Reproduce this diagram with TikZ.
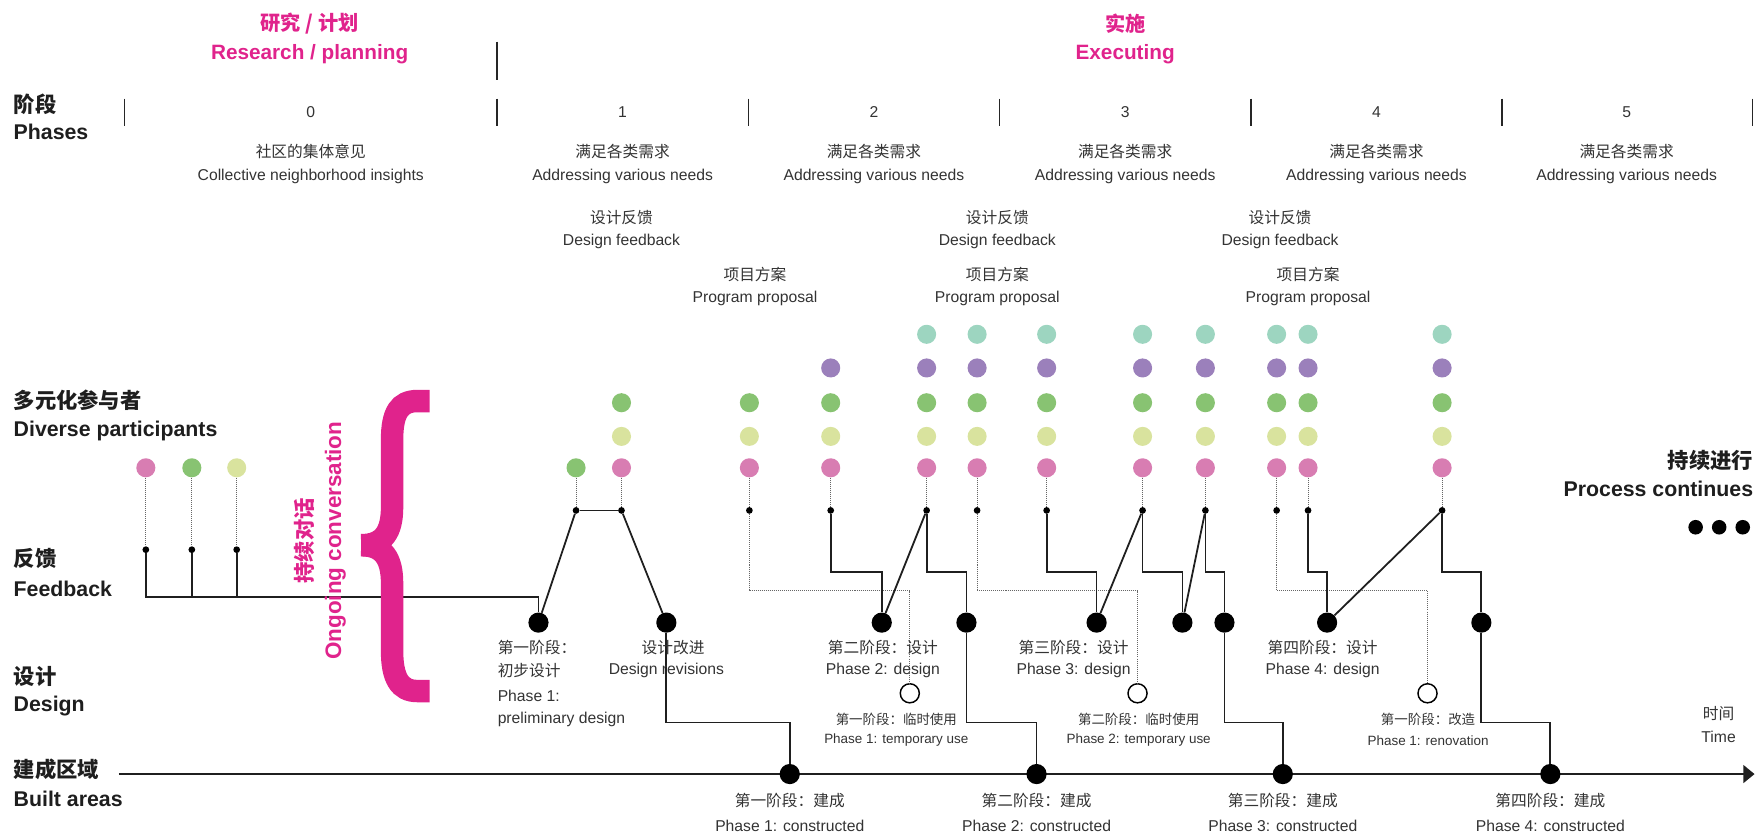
\documentclass[tikz,border=0pt]{standalone}
\usepackage{fontspec}
\setmainfont{Liberation Sans}
\newfontfamily\cjk{Noto Sans CJK SC}
\usetikzlibrary{arrows.meta,calc}
\definecolor{cteal}{HTML}{9DD5C0}
\definecolor{cpurple}{HTML}{9B80BB}
\definecolor{cgreen}{HTML}{88C372}
\definecolor{cyel}{HTML}{D9E39E}
\definecolor{cpink}{HTML}{D87DB2}
\definecolor{magentaA}{HTML}{E0238C}
\definecolor{txt}{HTML}{333333}
\definecolor{hdr}{HTML}{1E1E1E}
\newcommand\pcol[3]{%
  \node[pdot,fill=cpink] (#1p) at (#2,417) {};
  \ifnum#3>1 \node[pdot,fill=cyel] (#1y) at (#2,389) {};\fi
  \ifnum#3>2 \node[pdot,fill=cgreen] (#1g) at (#2,359) {};\fi
  \ifnum#3>3 \node[pdot,fill=cpurple] (#1u) at (#2,328) {};\fi
  \ifnum#3>4 \node[pdot,fill=cteal] (#1t) at (#2,298) {};\fi
  \node[sdot] (#1s) at (#2,455) {};
  \draw[dotline] (#1p) -- (#1s);
}
\begin{document}
\begin{tikzpicture}[x=1pt,y=-1pt,
  pdot/.style={circle,inner sep=0,minimum size=17pt},
  sdot/.style={circle,fill=black,inner sep=0,minimum size=6pt},
  bignode/.style={circle,fill=black,inner sep=0,minimum size=18pt},
  opennode/.style={circle,draw=black,line width=1.3pt,fill=white,inner sep=0,minimum size=17pt},
  conn/.style={line width=1.6pt,draw=black!88},
  dotline/.style={line width=0.9pt,draw=black!60,dash pattern=on 0.9pt off 0.9pt},
  tickline/.style={line width=1.2pt,draw=black!85},
  lab/.style={font=\fontsize{14}{16}\selectfont,text=txt,inner sep=0},
  labcn/.style={font=\cjk\fontsize{14}{16}\selectfont,text=txt,inner sep=0},
  small/.style={font=\fontsize{12}{14}\selectfont,text=txt,inner sep=0},
  smallcn/.style={font=\cjk\fontsize{12}{14}\selectfont,text=txt,inner sep=0},
  head/.style={font=\bfseries\fontsize{19}{22}\selectfont,text=hdr,inner sep=0},
  headcn/.style={font=\cjk\bfseries\fontsize{19}{22}\selectfont,text=hdr,inner sep=0},
  pinkhead/.style={font=\bfseries\fontsize{18.5}{22}\selectfont,text=magentaA,inner sep=0},
  pinkcn/.style={font=\cjk\bfseries\fontsize{18}{22}\selectfont,text=magentaA,inner sep=0},
  pinkbrace/.style={draw=magentaA,line width=20pt,line cap=butt}
]
\useasboundingbox (0,0) rectangle (1568,743);

% ---- top titles
\node[pinkcn] (ttl1) at (276,21) {研究 / 计划};
\node[pinkhead] (ttl2) at (276,48) {Research / planning};
\node[pinkcn] (ttl3) at (1003,21) {实施};
\node[pinkhead] (ttl4) at (1003,48) {Executing};
\coordinate (sepA) at (443,37);
\coordinate (sepB) at (443,71);
\draw[tickline] (sepA) -- (sepB);

% ---- left headings
\node[headcn,anchor=west] (h1) at (12,93) {阶段};
\node[head,anchor=west] (h2) at (12,118) {Phases};
\node[headcn,anchor=west] (h3) at (12,357) {多元化参与者};
\node[head,anchor=west] (h4) at (12,384) {Diverse participants};
\node[headcn,anchor=west] (h5) at (12,498) {反馈};
\node[head,anchor=west] (h6) at (12,525) {Feedback};
\node[headcn,anchor=west] (h7) at (12,603) {设计};
\node[head,anchor=west] (h8) at (12,629) {Design};
\node[headcn,anchor=west] (h9) at (12,686) {建成区域};
\node[head,anchor=west] (h10) at (12,712) {Built areas};

% ---- phase ticks and numbers
\foreach \x [count=\i] in {111,443,667,891,1115,1339,1562} {
  \coordinate (ta\i) at (\x,88);
  \coordinate (tb\i) at (\x,112);
  \draw[tickline] (ta\i) -- (tb\i);
}
\foreach \x/\t [count=\i] in {277/0,555/1,779/2,1003/3,1227/4,1450/5}
  \node[lab] (num\i) at (\x,100) {\t};
\node[labcn] (q0a) at (277,135) {社区的集体意见};
\node[lab] (q0b) at (277,157) {Collective neighborhood insights};
\foreach \x [count=\i] in {555,779,1003,1227,1450} {
  \node[labcn] (qa\i) at (\x,135) {满足各类需求};
  \node[lab] (qb\i) at (\x,157) {Addressing various needs};
}
\foreach \x [count=\i] in {554,889,1141} {
  \node[labcn] (fa\i) at (\x,194) {设计反馈};
  \node[lab] (fb\i) at (\x,215) {Design feedback};
}
\foreach \x [count=\i] in {673,889,1166} {
  \node[labcn] (pa\i) at (\x,245) {项目方案};
  \node[lab] (pb\i) at (\x,266) {Program proposal};
}

% ---- right side
\node[headcn,anchor=east] (pc1) at (1563,410) {持续进行};
\node[head,anchor=east] (pc2) at (1563,436) {Process continues};
\foreach \x [count=\i] in {1511.5,1532.5,1553.5}
  \node[circle,fill=black,inner sep=0,minimum size=13pt] (el\i) at (\x,470) {};
\node[labcn] (tm1) at (1532,636) {时间};
\node[lab] (tm2) at (1532,657) {Time};

% ---- time axis
\coordinate (ax0) at (106,690);
\coordinate (ax1) at (1564,690);
\draw[line width=1.6pt,draw=black!88,-{Triangle[length=10pt,width=16pt]}] (ax0) -- (ax1);

% ---- participant dots (left group)
\node[pdot,fill=cpink] (l1p) at (130,417) {};
\node[pdot,fill=cgreen] (l2p) at (171,417) {};
\node[pdot,fill=cyel] (l3p) at (211,417) {};
\node[sdot] (l1s) at (130,490) {};
\node[sdot] (l2s) at (171,490) {};
\node[sdot] (l3s) at (211,490) {};
\draw[dotline] (l1p) -- (l1s);
\draw[dotline] (l2p) -- (l2s);
\draw[dotline] (l3p) -- (l3s);

% phase 1 group
\node[pdot,fill=cgreen] (zp) at (513.5,417) {};
\node[sdot] (zs) at (513.5,455) {};
\draw[dotline] (zp) -- (zs);
\pcol{a}{554}{3}
\pcol{b}{668}{3}
\pcol{c}{740.5}{4}
\pcol{d}{826}{5}
\pcol{e}{871}{5}
\pcol{f}{933}{5}
\pcol{g}{1018.5}{5}
\pcol{h}{1074.5}{5}
\pcol{i}{1138}{5}
\pcol{j}{1166}{5}
\pcol{k}{1285.5}{5}

% ---- design, open and built nodes
\node[bignode] (D1) at (480,555) {};
\node[bignode] (R1) at (594,555) {};
\node[bignode] (D2) at (786,555) {};
\node[bignode] (E2) at (861.5,555) {};
\node[bignode] (D3) at (977.5,555) {};
\node[bignode] (F3) at (1054,555) {};
\node[bignode] (G3) at (1091.5,555) {};
\node[bignode] (D4) at (1183,555) {};
\node[bignode] (E4) at (1320.5,555) {};
\node[opennode] (O1) at (811,618) {};
\node[opennode] (O2) at (1014,618) {};
\node[opennode] (O3) at (1272.5,618) {};
\node[bignode] (B1) at (704,690) {};
\node[bignode] (B2) at (924,690) {};
\node[bignode] (B3) at (1143.5,690) {};
\node[bignode] (B4) at (1382,690) {};

% ---- helper levels
\coordinate (fbus) at (480,532);
\coordinate (ys) at (0,509.6);
\coordinate (yd) at (0,526.5);
\coordinate (yl) at (0,644);

% ---- connectors
\draw[conn] (l1s) |- (fbus) -- (D1);
\draw[conn] (l2s) -- (l2s |- fbus);
\draw[conn] (l3s) -- (l3s |- fbus);
\draw[conn] (zs) -- (as);
\draw[conn] (zs) -- (D1);
\draw[conn] (as) -- (R1);
\draw[conn] (R1) -- (R1 |- yl) -| (B1);
\draw[dotline] (bs) -- (bs |- yd) -| (O1);
\draw[conn] (cs) -- (cs |- ys) -| (D2);
\draw[conn] (ds) -- (D2);
\draw[conn] (ds) -- (ds |- ys) -| (E2);
\draw[conn] (E2) -- (E2 |- yl) -| (B2);
\draw[dotline] (es) -- (es |- yd) -| (O2);
\draw[conn] (fs) -- (fs |- ys) -| (D3);
\draw[conn] (gs) -- (D3);
\draw[conn] (gs) -- (gs |- ys) -| (F3);
\draw[conn] (hs) -- (F3);
\draw[conn] (hs) -- (hs |- ys) -| (G3);
\draw[conn] (G3) -- (G3 |- yl) -| (B3);
\draw[dotline] (is) -- (is |- yd) -| (O3);
\draw[conn] (js) -- (js |- ys) -| (D4);
\draw[conn] (ks) -- (D4);
\draw[conn] (ks) -- (ks |- ys) -| (E4);
\draw[conn] (E4) -- (E4 |- yl) -| (B4);

% ---- ongoing conversation brace
\node[pinkcn,rotate=90,font=\cjk\bfseries\fontsize{19}{22}\selectfont] (oc1) at (271.5,482) {持续对话};
\node[pinkhead,rotate=90,font=\bfseries\fontsize{20}{22}\selectfont] (oc2) at (299,482) {Ongoing conversation};
\draw[pinkbrace] (383,357.5) -- (372,357.5) .. controls (356,357.5) and (349.5,368) .. (349.5,392) -- (349.5,452) .. controls (349.5,474) and (342,486) .. (322,486);
\draw[pinkbrace] (322,486) .. controls (342,486) and (349.5,498) .. (349.5,520) -- (349.5,580) .. controls (349.5,604) and (356,616) .. (372,616) -- (383,616);

% ---- design labels
\node[labcn,anchor=west] (dl1) at (443.5,577) {第一阶段：};
\node[labcn,anchor=west] (dl2) at (443.5,598) {初步设计};
\node[lab,anchor=west] (dl3) at (443.5,620) {Phase 1:};
\node[lab,anchor=west] (dl4) at (443.5,641) {preliminary design};
\node[labcn] (rl1) at (600,577) {设计改进};
\node[lab] (rl2) at (594,598) {Design revisions};
\node[labcn] (d2l1) at (787,577) {第二阶段：设计};
\node[lab] (d2l2) at (787,598) {Phase 2: design};
\node[labcn] (d3l1) at (957,577) {第三阶段：设计};
\node[lab] (d3l2) at (957,598) {Phase 3: design};
\node[labcn] (d4l1) at (1179,577) {第四阶段：设计};
\node[lab] (d4l2) at (1179,598) {Phase 4: design};

\node[smallcn] (o1l1) at (799,641) {第一阶段：临时使用};
\node[small] (o1l2) at (799,660) {Phase 1: temporary use};
\node[smallcn] (o2l1) at (1015,641) {第二阶段：临时使用};
\node[small] (o2l2) at (1015,660) {Phase 2: temporary use};
\node[smallcn] (o3l1) at (1273,641) {第一阶段：改造};
\node[small] (o3l2) at (1273,660) {Phase 1: renovation};

\node[labcn] (b1l1) at (704,714) {第一阶段：建成};
\node[lab] (b1l2) at (704,736) {Phase 1: constructed};
\node[labcn] (b2l1) at (924,714) {第二阶段：建成};
\node[lab] (b2l2) at (924,736) {Phase 2: constructed};
\node[labcn] (b3l1) at (1143.5,714) {第三阶段：建成};
\node[lab] (b3l2) at (1143.5,736) {Phase 3: constructed};
\node[labcn] (b4l1) at (1382,714) {第四阶段：建成};
\node[lab] (b4l2) at (1382,736) {Phase 4: constructed};
\end{tikzpicture}
\end{document}
